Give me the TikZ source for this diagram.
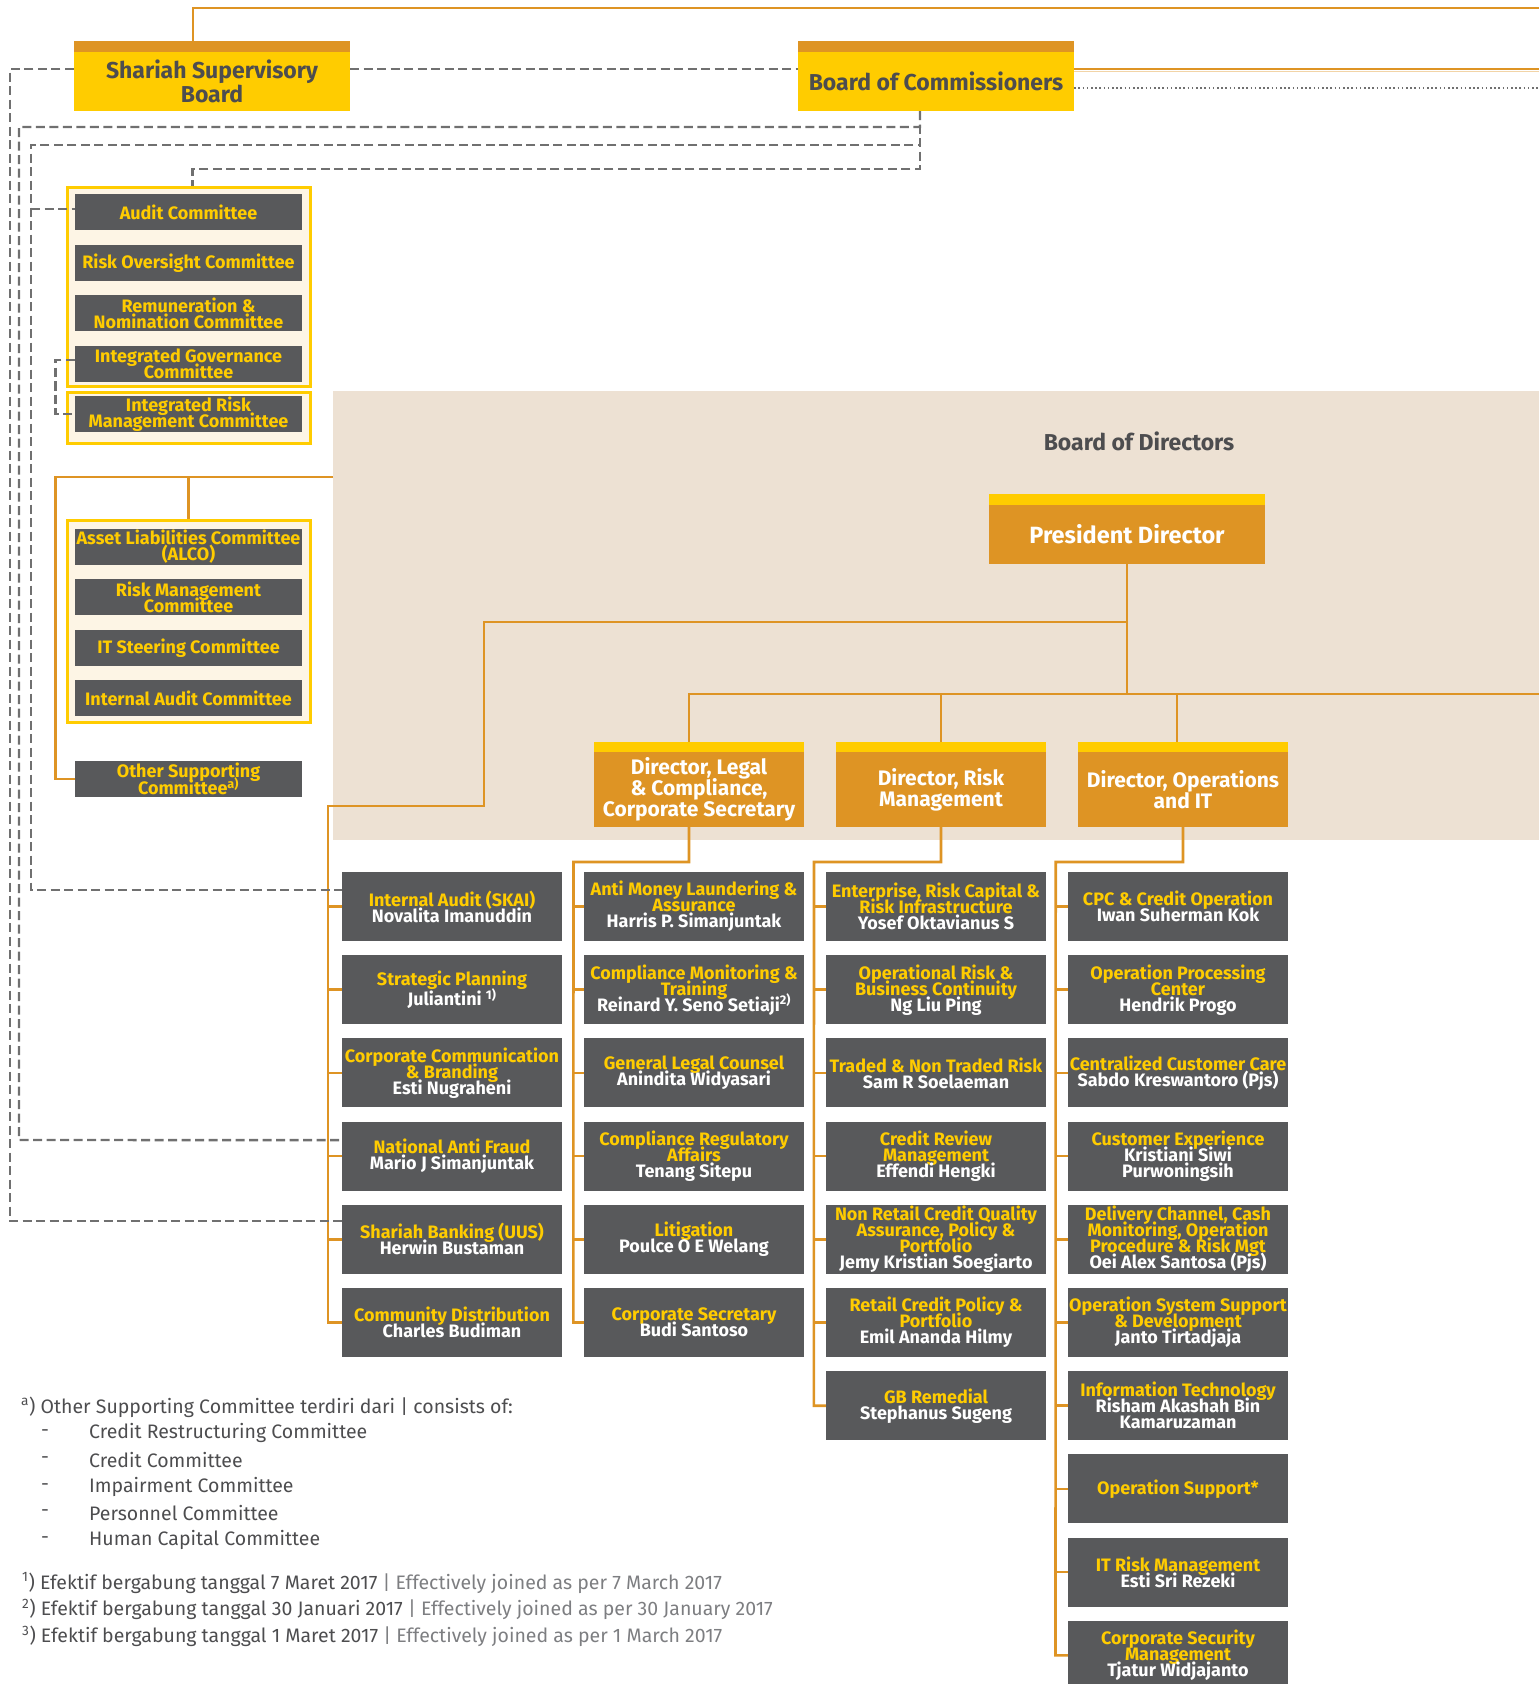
\documentclass[tikz,border=0pt]{standalone}
\usepackage{fontspec}
\setmainfont{Fira Sans}
\newfontfamily\bxf{Fira Sans}
\newfontfamily\fnf{Fira Sans}
\definecolor{ylw}{HTML}{FFCC00}
\definecolor{org}{HTML}{DE9424}
\definecolor{boxg}{HTML}{58595B}
\definecolor{beige}{HTML}{EDE1D3}
\definecolor{cream}{HTML}{FDF5E5}
\definecolor{dashg}{HTML}{707070}
\definecolor{txtd}{HTML}{4D4D4F}
\definecolor{txtl}{HTML}{7D7E81}
\newcommand{\nm}[1]{\textcolor{white}{#1}}
\newcommand{\tightls}{\lineskiplimit=-100pt\relax}
\newcommand{\ssup}[1]{\smash{\textsuperscript{#1}}}
\begin{document}
\begin{tikzpicture}[x=1pt,y=-1pt,
  ol/.style={draw=org,line width=2.6pt},
  dl/.style={draw=dashg,line width=2.4pt,dash pattern=on 9pt off 4.5pt},
  dotl/.style={draw=dashg,line width=1.6pt,dash pattern=on 1.6pt off 2.6pt},
  band/.style={inner sep=0pt,minimum width=#1,minimum height=11},
  grp/.style={draw=ylw,line width=3pt,fill=cream,inner sep=0pt,minimum width=243},
  cbox/.style={fill=boxg,inner sep=0pt,minimum width=227,minimum height=36,align=center,text=ylw,
    font=\bxf\bfseries\fontsize{18}{16}\selectfont\tightls},
  unit/.style={fill=boxg,inner sep=0pt,minimum width=220,minimum height=69,align=center,text=ylw,
    font=\bxf\bfseries\fontsize{18}{16}\selectfont\tightls},
  dirbox/.style={fill=org,inner sep=0pt,minimum width=210,minimum height=75,align=center,text=white,
    font=\bxf\bfseries\fontsize{21}{20.8}\selectfont\tightls},
  topbox/.style={fill=ylw,inner sep=0pt,minimum width=276,minimum height=59,align=center,text=txtd,
    font=\bxf\bfseries\fontsize{23}{23.5}\selectfont\tightls},
  fn/.style={anchor=west,inner sep=0pt,text=txtd,font=\fnf\fontsize{19.5}{20}\selectfont}
]
\useasboundingbox (0,0) rectangle (1539,1684);

% ---------- Board of Directors background ----------
\node[fill=beige,inner sep=0pt,minimum width=1206,minimum height=449,anchor=north west] (bodbg) at (333,391) {};
\node[text=txtd,font=\bxf\bfseries\fontsize{23}{23}\selectfont] (bodlbl) at (1139,441) {Board of Directors};

% ---------- coordinates ----------
\coordinate (tR) at (1539,8);
\coordinate (bR) at (1539,69);
\coordinate (bR3) at (1539,71.5);
\coordinate (bR2) at (1539,88);
\coordinate (hR) at (1539,694);
\coordinate (d0) at (10,1221);
\coordinate (d1a) at (19,127);
\coordinate (d1b) at (19,1140);
\coordinate (d2a) at (31,145);
\coordinate (d2b) at (31,890);
\coordinate (d2c) at (31,209);
\coordinate (d3) at (192.5,169);
\coordinate (db) at (55.5,390);
\coordinate (bodL) at (333,477);
\coordinate (o1) at (55.5,779);
\coordinate (o2) at (188.5,477);
\coordinate (p1) at (1127,622);
\coordinate (p2) at (484,806);
\coordinate (l1) at (573.5,862);
\coordinate (r1) at (814,862);
\coordinate (q1) at (1055.7,862);

% ---------- top boards ----------
\node[band=276,fill=org] (ssbband) at (212,46.5) {};
\node[topbox] (ssb) at (212,81.5) {Shariah Supervisory\\Board};
\node[band=276,fill=org] (bocband) at (936,46.5) {};
\node[topbox] (boc) at (936,81.5) {Board of Commissioners};

% ---------- committee groups ----------
\node[grp,minimum height=199] (grp1) at (188.5,286.5) {};
\node[grp,minimum height=51] (grp2) at (188.5,417.5) {};
\node[grp,minimum height=202] (grp3) at (188.5,621) {};

\node[cbox] (audit) at (188.5,212) {Audit Committee};
\node[cbox] (roc) at (188.5,263) {Risk Oversight Committee};
\node[cbox] (rnc) at (188.5,313) {Remuneration \&\\Nomination Committee};
\node[cbox] (igc) at (188.5,364) {Integrated Governance\\Committee};
\node[cbox] (irmc) at (188.5,414) {Integrated Risk\\Management Committee};
\node[cbox] (alco) at (188.5,547) {Asset Liabilities Committee\\(ALCO)};
\node[cbox] (rmc) at (188.5,597) {Risk Management\\Committee};
\node[cbox] (itsc) at (188.5,648) {IT Steering Committee};
\node[cbox] (iac) at (188.5,698) {Internal Audit Committee};
\node[cbox] (osc) at (188.5,779) {Other Supporting\\[1.5pt]Committee\ssup{a)}};

% ---------- president & directors ----------
\node[band=276,fill=ylw] (presband) at (1127,499.5) {};
\node[fill=org,inner sep=0pt,minimum width=276,minimum height=59,text=white,
  font=\bxf\bfseries\fontsize{23.5}{23}\selectfont] (pres) at (1127,534.5) {President Director};

\node[band=210,minimum height=10,fill=ylw] (legalband) at (699,747) {};
\node[dirbox] (legal) at (699,789.5) {Director, Legal\\\& Compliance,\\Corporate Secretary};
\node[band=210,minimum height=10,fill=ylw] (riskband) at (941,747) {};
\node[dirbox] (risk) at (941,789.5) {Director, Risk\\Management};
\node[band=210,minimum height=10,fill=ylw] (opsband) at (1183,747) {};
\node[dirbox] (ops) at (1183,789.5) {Director, Operations\\and IT};

% ---------- column 1 ----------
\node[unit] (c1r1) at (452,906.5) {Internal Audit (SKAI)\\\nm{Novalita Imanuddin}};
\node[unit] (c1r2) at (452,989.7) {Strategic Planning\\[4.5pt]\nm{Juliantini \ssup{1)}}};
\node[unit] (c1r3) at (452,1072.9) {Corporate Communication\\\& Branding\\\nm{Esti Nugraheni}};
\node[unit] (c1r4) at (452,1156.1) {National Anti Fraud\\\nm{Mario J Simanjuntak}};
\node[unit] (c1r5) at (452,1239.3) {Shariah Banking (UUS)\\\nm{Herwin Bustaman}};
\node[unit] (c1r6) at (452,1322.5) {Community Distribution\\\nm{Charles Budiman}};

% ---------- column 2 ----------
\node[unit] (c2r1) at (694,906.5) {Anti Money Laundering \&\\Assurance\\\nm{Harris P. Simanjuntak}};
\node[unit] (c2r2) at (694,989.7) {Compliance Monitoring \&\\Training\\\nm{Reinard Y. Seno Setiaji\ssup{2)}}};
\node[unit] (c2r3) at (694,1072.9) {General Legal Counsel\\\nm{Anindita Widyasari}};
\node[unit] (c2r4) at (694,1156.1) {Compliance Regulatory\\Affairs\\\nm{Tenang Sitepu}};
\node[unit] (c2r5) at (694,1239.3) {Litigation\\\nm{Poulce O E Welang}};
\node[unit] (c2r6) at (694,1322.5) {Corporate Secretary\\\nm{Budi Santoso}};

% ---------- column 3 ----------
\node[unit] (c3r1) at (936,906.5) {Enterprise, Risk Capital \&\\Risk Infrastructure\\\nm{Yosef Oktavianus S}};
\node[unit] (c3r2) at (936,989.7) {Operational Risk \&\\Business Continuity\\\nm{Ng Liu Ping}};
\node[unit] (c3r3) at (936,1072.9) {Traded \& Non Traded Risk\\\nm{Sam R Soelaeman}};
\node[unit] (c3r4) at (936,1156.1) {Credit Review\\Management\\\nm{Effendi Hengki}};
\node[unit] (c3r5) at (936,1239.3) {Non Retail Credit Quality\\Assurance, Policy \&\\Portfolio\\\nm{Jemy Kristian Soegiarto}};
\node[unit] (c3r6) at (936,1322.5) {Retail Credit Policy \&\\Portfolio\\\nm{Emil Ananda Hilmy}};
\node[unit] (c3r7) at (936,1405.7) {GB Remedial\\\nm{Stephanus Sugeng}};

% ---------- column 4 ----------
\node[unit] (c4r1) at (1178,906.5) {CPC \& Credit Operation\\\nm{Iwan Suherman Kok}};
\node[unit] (c4r2) at (1178,989.7) {Operation Processing\\Center\\\nm{Hendrik Progo}};
\node[unit] (c4r3) at (1178,1072.9) {Centralized Customer Care\\\nm{Sabdo Kreswantoro (Pjs)}};
\node[unit] (c4r4) at (1178,1156.1) {Customer Experience\\\nm{Kristiani Siwi}\\\nm{Purwoningsih}};
\node[unit] (c4r5) at (1178,1239.3) {Delivery Channel, Cash\\Monitoring, Operation\\Procedure \& Risk Mgt\\\nm{Oei Alex Santosa (Pjs)}};
\node[unit] (c4r6) at (1178,1322.5) {Operation System Support\\\& Development\\\nm{Janto Tirtadjaja}};
\node[unit] (c4r7) at (1178,1405.7) {Information Technology\\\nm{Risham Akashah Bin}\\\nm{Kamaruzaman}};
\node[unit] (c4r8) at (1178,1488.9) {Operation Support*};
\node[unit] (c4r9) at (1178,1572.1) {IT Risk Management\\\nm{Esti Sri Rezeki}};
\node[unit] (c4r10) at (1178,1655.3) {Corporate Security\\Management\\\nm{Tjatur Widjajanto}};

% ---------- orange connectors ----------
\draw[ol] ([xshift=-19pt]ssbband.north) |- (tR);
\draw[ol] ([yshift=12.5pt]boc.east) -- (bR);
\draw[draw=org!40,line width=1.2pt] ([yshift=10pt]boc.east) -- (bR3);
\draw[dotl] ([yshift=-6.5pt]boc.east) -- (bR2);
\draw[ol] (bodL) -| (o1) -- (osc.west);
\draw[ol] (o2) -- (grp3.north);
\draw[ol] (pres.south) -- (pres.south |- hR);
\draw[ol] ([xshift=-10pt]legalband.north) |- (hR);
\draw[ol] (riskband.north) -- (riskband.north |- hR);
\draw[ol] ([xshift=-6pt]opsband.north) -- ([xshift=-6pt]opsband.north |- hR);
\draw[ol] (p1) -| (p2) -| ([xshift=-14pt]c1r6.west) -- (c1r6.west);
\foreach \i in {1,...,5} \draw[ol] ([xshift=-14pt]c1r\i.west) -- (c1r\i.west);
\draw[ol] ([xshift=-10pt]legal.south) |- (l1) -- ([xshift=-10.5pt]c2r6.west) -- (c2r6.west);
\foreach \i in {1,...,5} \draw[ol] ([xshift=-10.5pt]c2r\i.west) -- (c2r\i.west);
\draw[ol] (risk.south) |- (r1) -- ([xshift=-12pt]c3r7.west) -- (c3r7.west);
\foreach \i in {1,...,6} \draw[ol] ([xshift=-12pt]c3r\i.west) -- (c3r\i.west);
\draw[ol] (ops.south) |- (q1) -- ([xshift=-12.3pt]c4r10.west) -- (c4r10.west);
\foreach \i in {1,...,9} \draw[ol] ([xshift=-12.3pt]c4r\i.west) -- (c4r\i.west);

% ---------- dashed connectors ----------
\draw[dl] ([yshift=12.5pt]ssb.west) -| (d0) -- ([yshift=18.3pt]c1r5.west);
\draw[dl] ([yshift=12.5pt]ssb.east) -- ([yshift=12.5pt]boc.west);
\draw[dl] ([xshift=-16pt]boc.south) |- (d1a) -- (d1b) -- ([yshift=16pt]c1r4.west);
\draw[dl] ([xshift=-16pt]boc.south) |- (d2a) -- (d2b) -- ([yshift=16.5pt]c1r1.west);
\draw[dl] (d2c) -- ([yshift=3pt]audit.west);
\draw[dl] ([xshift=-16pt]boc.south) |- (d3) -- ([xshift=4pt]grp1.north);
\draw[dl] ([yshift=4pt]igc.west) -| (db) |- (irmc.west);

% ---------- footnotes ----------
\node[fn] (fa) at (21,1407) {\textsuperscript{a}) Other Supporting Committee terdiri dari | consists of:};
\foreach \t/\yy [count=\k] in {Credit Restructuring Committee/1433,Credit Committee/1460,Impairment Committee/1487,Personnel Committee/1513,Human Capital Committee/1540}{
  \node[fn] (fd\k) at (41,\yy) {-};
  \node[fn] (fi\k) at (89,\yy) {\t};
}
\node[fn] (f1) at (22,1583) {\textsuperscript{1}) Efektif bergabung tanggal 7 Maret 2017 \textcolor{txtl}{| Effectively joined as per 7 March 2017}};
\node[fn] (f2) at (22,1609.5) {\textsuperscript{2}) Efektif bergabung tanggal 30 Januari 2017 \textcolor{txtl}{| Effectively joined as per 30 January 2017}};
\node[fn] (f3) at (22,1636.5) {\textsuperscript{3}) Efektif bergabung tanggal 1 Maret 2017 \textcolor{txtl}{| Effectively joined as per 1 March 2017}};
\end{tikzpicture}
\end{document}
